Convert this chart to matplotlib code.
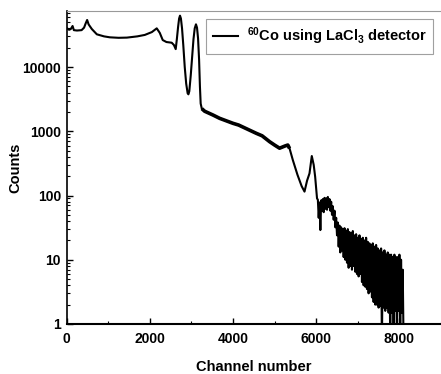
import numpy as np
import matplotlib
matplotlib.use("Agg")
import matplotlib.pyplot as plt
from matplotlib.ticker import FixedLocator, LogLocator, NullFormatter, MultipleLocator

plt.rcParams['font.family'] = ['Liberation Sans', 'DejaVu Sans']
plt.rcParams['font.weight'] = 'bold'
plt.rcParams['mathtext.fontset'] = 'custom'
plt.rcParams['mathtext.rm'] = 'Liberation Sans:bold'
plt.rcParams['mathtext.it'] = 'Liberation Sans:bold'
plt.rcParams['mathtext.bf'] = 'Liberation Sans:bold'

# smooth part of the spectrum (channel, counts)
channels = [0, 60, 100, 144, 175, 250, 360, 420, 460, 494, 530, 607, 727, 900,
            1040, 1250, 1450, 1700, 1880, 2050, 2167, 2240, 2311, 2400, 2527,
            2580, 2623, 2650, 2680, 2705, 2726, 2748, 2775, 2805, 2840, 2875,
            2910, 2928, 2950, 2985, 3020, 3050, 3080, 3110, 3135, 3160, 3185,
            3205, 3223, 3250, 3319, 3519, 3679, 3999, 4135, 4560, 4700, 4879,
            5000, 5119, 5250, 5318, 5360, 5438, 5550, 5650, 5719, 5780, 5839,
            5894, 5940, 5975, 6020]
counts = [40500, 38000, 39000, 43500, 37500, 37000, 37500, 41000, 48000, 54000,
          46000, 39000, 32300, 30000, 29000, 28500, 28700, 30000, 31600, 35000,
          40000, 34000, 26300, 24500, 23900, 22000, 19000, 27000, 42000, 57000,
          63000, 57000, 40000, 22000, 10000, 5500, 3900, 3760, 4200, 7500,
          15000, 27000, 40000, 46200, 41000, 28000, 13000, 5000, 2700, 2250,
          2050, 1790, 1590, 1330, 1250, 929, 850, 689, 610, 545, 590, 611, 540,
          357, 210, 140, 115, 170, 221, 412, 300, 196, 90]

# noisy high-energy tail, alternating upper / lower edge of the noise band
tail_channels = [6040, 6060, 6080, 6100, 6120, 6140, 6160, 6180, 6200, 6220,
                 6240, 6260, 6280, 6300, 6320, 6340, 6360, 6380, 6400, 6420,
                 6440, 6460, 6480, 6500, 6520, 6540, 6560, 6580, 6600, 6620,
                 6640, 6660, 6680, 6700, 6720, 6740, 6760, 6780, 6800, 6820,
                 6840, 6860, 6880, 6900, 6920, 6940, 6960, 6980, 7000, 7020,
                 7040, 7060, 7080, 7100, 7120, 7140, 7160, 7180, 7200, 7220,
                 7240, 7260, 7280, 7300, 7320, 7340, 7360, 7380, 7400, 7420,
                 7440, 7460, 7480, 7500, 7520, 7540, 7560, 7580, 7600, 7620,
                 7640, 7660, 7680, 7700, 7720, 7740, 7760, 7780, 7800, 7820,
                 7840, 7860, 7880, 7900, 7920, 7940, 7960, 7980, 8000, 8020,
                 8040, 8060, 8080, 8100]
tail_counts = [86, 45, 78, 29, 84, 58, 88, 55, 92, 62,
               90, 60, 95, 66, 88, 58, 80, 50, 68, 42,
               58, 32, 45, 24, 38, 16, 34, 13, 32, 14,
               30, 11, 31, 10, 28, 9, 30, 7.5, 27, 8,
               26, 7, 28, 8, 24, 6.5, 25, 6, 22, 5.5,
               24, 6, 21, 4.5, 22, 4, 20, 3.8, 22, 3.5,
               19, 3, 18, 3.2, 17, 2.6, 18, 2.2, 16, 2,
               17, 2, 15, 1.8, 14, 1.9, 15, 0.5, 13, 1.8,
               14, 1.6, 12, 1.8, 13, 1.5, 12, 0.5, 12, 1.5,
               11, 0.5, 12, 1.6, 11, 0.5, 11, 1.6, 12, 0.5,
               10, 1.5, 7, 0.5]

x_ticks = [0, 2000, 4000, 6000, 8000]
y_ticks = [1, 10, 100, 1000, 10000]

fig = plt.figure(figsize=(4.41, 3.74), dpi=100)
ax = fig.add_axes([0.151, 0.1337, 0.849, 0.8369])

all_x = channels + tail_channels
all_y = counts + tail_counts
ax.plot(all_x, all_y, color='black', lw=1.5,
        label=r'$^{60}$Co using LaCl$_{3}$ detector')
# the 3300-5400 stretch is a thick noisy trace in the original
mid = [i for i, c in enumerate(channels) if 3250 <= c <= 5360]
ax.plot([channels[i] for i in mid], [counts[i] for i in mid],
        color='black', lw=2.6, solid_capstyle='butt')

ax.set_yscale('log')
ax.set_xlim(0, 9000)
ax.set_ylim(1, 74500)

ax.xaxis.set_major_locator(FixedLocator(x_ticks))
ax.xaxis.set_minor_locator(MultipleLocator(1000))
ax.yaxis.set_major_locator(FixedLocator(y_ticks))
ax.set_yticklabels([str(v) for v in y_ticks])
ax.yaxis.set_minor_locator(LogLocator(base=10, subs=np.arange(2, 10)))
ax.yaxis.set_minor_formatter(NullFormatter())

ax.tick_params(which='major', direction='in', length=4, width=1,
               labelsize=10, pad=4, top=False, right=False)
ax.tick_params(which='minor', direction='in', length=2.5, width=0.8,
               top=False, right=False)
ax.tick_params(axis='x', pad=6)

ax.spines['right'].set_visible(False)
ax.spines['top'].set_color('#999999')
ax.spines['top'].set_linewidth(0.8)
ax.spines['left'].set_linewidth(1.2)
ax.spines['bottom'].set_linewidth(1.5)

ax.set_xlabel('Channel number', fontsize=10.5, fontweight='bold', labelpad=10)
ax.set_ylabel('Counts', fontsize=10.5, fontweight='bold', labelpad=0)

leg = ax.legend(loc='upper right', bbox_to_anchor=(0.979, 0.975),
                borderaxespad=0, fancybox=False, fontsize=10.5,
                handlelength=1.7, handletextpad=0.6, borderpad=0.45)
leg.get_frame().set_edgecolor('#888888')
leg.get_frame().set_linewidth(0.8)

fig.savefig('out.png', dpi=100)
